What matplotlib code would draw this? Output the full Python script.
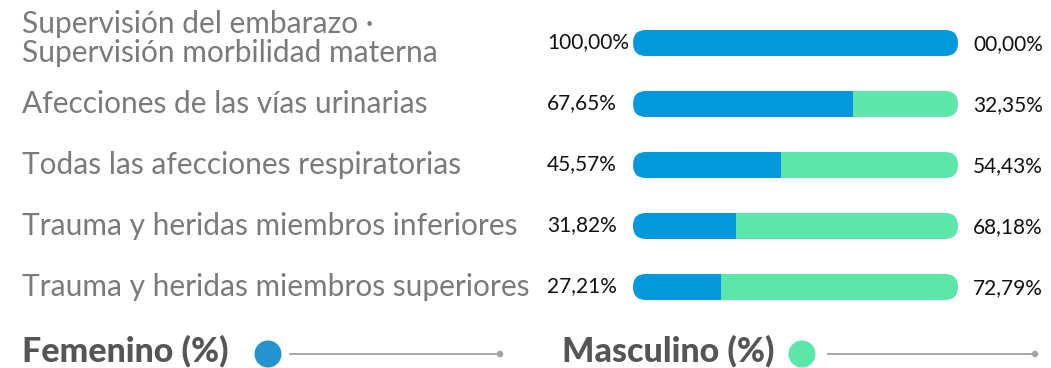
import matplotlib
matplotlib.use("Agg")
import matplotlib.pyplot as plt
from matplotlib.patches import FancyBboxPatch, Circle
from matplotlib.lines import Line2D

# Data
categories = [
    "Supervisión del embarazo ·\nSupervisión morbilidad materna",
    "Afecciones de las vías urinarias",
    "Todas las afecciones respiratorias",
    "Trauma y heridas miembros inferiores",
    "Trauma y heridas miembros superiores",
]
femenino = [100.00, 67.65, 45.57, 31.82, 27.21]
masculino = [0.00, 32.35, 54.43, 68.18, 72.79]
fem_labels = ["100,00%", "67,65%", "45,57%", "31,82%", "27,21%"]
masc_labels = ["00,00%", "32,35%", "54,43%", "68,18%", "72,79%"]
legend_names = ["Femenino (%)", "Masculino (%)"]

BLUE = "#0398DB"
GREEN = "#5CE6A9"
LEG_BLUE = "#2493CF"
LABEL_GRAY = "#7a7a7a"

W, H = 1051, 368
fig = plt.figure(figsize=(W / 100, H / 100), dpi=100)

# Bar axes in pixel-based placement
bx0, bx1 = 633, 958
row_top, row_h = 12.5, 61
n = len(categories)
ax = fig.add_axes([bx0 / W, 1 - (row_top + n * row_h) / H, (bx1 - bx0) / W, n * row_h / H])
ax.set_xlim(0, 100)
ax.set_ylim(n - 0.5, -0.5)
ax.axis("off")

bar_px = 26
bar_h = bar_px / row_h
px_per_x = (bx1 - bx0) / 100
radius_x = (bar_px / 2) / px_per_x
aspect = (1 / row_h) / (1 / px_per_x)

ys = list(range(n))
fem_bars = ax.barh(ys, femenino, height=bar_h, color=BLUE, linewidth=0)
masc_bars = ax.barh(ys, masculino, left=femenino, height=bar_h, color=GREEN, linewidth=0)

# Round the ends of each full-width track
for i in ys:
    clip = FancyBboxPatch((0, i - bar_h / 2), 100, bar_h,
                          boxstyle=f"round,pad=0,rounding_size={radius_x}",
                          mutation_aspect=aspect, transform=ax.transData,
                          facecolor="none", edgecolor="none")
    ax.add_patch(clip)
    fem_bars[i].set_clip_path(clip)
    masc_bars[i].set_clip_path(clip)

# Overlay for text & legend in pixel coordinates
ov = fig.add_axes([0, 0, 1, 1])
ov.set_xlim(0, W)
ov.set_ylim(H, 0)
ov.axis("off")

label_font = dict(family=["Lato", "DejaVu Sans"], fontweight="normal")
pct_font = dict(family=["Lato", "DejaVu Sans"])

for i in ys:
    yc = row_top + (i + 0.5) * row_h
    if "\n" in categories[i]:
        ov.text(22, yc - 4.5, categories[i], ha="left", va="center", fontsize=21.5,
                color=LABEL_GRAY, linespacing=1.02, **label_font)
    else:
        ov.text(22, yc, categories[i], ha="left", va="center", fontsize=21.5,
                color=LABEL_GRAY, **label_font)
    ov.text(547, yc - 1, fem_labels[i], ha="left", va="center", fontsize=15,
            color="#111111", **pct_font)
    ov.text(1043, yc + 1, masc_labels[i], ha="right", va="center", fontsize=15,
            color="#111111", **pct_font)

# Legend
leg_y = 354
leg_font = dict(family=["Lato", "DejaVu Sans"], fontweight="black")
entries = [(22, 268, 290, 500, LEG_BLUE), (562, 802, 828, 1035, GREEN)]
for (tx, cx, lx0, lx1, col), name in zip(entries, legend_names):
    ov.text(tx, leg_y - 3, name, ha="left", va="center", fontsize=24.5, color="#555555", **leg_font)
    ov.add_patch(Circle((cx, leg_y), 13.5, facecolor=col, edgecolor="none"))
    ov.add_line(Line2D([lx0, lx1], [leg_y, leg_y], color="#a8a8a8", linewidth=1.4))
    ov.add_patch(Circle((lx1, leg_y), 3.2, facecolor="#a0a0a0", edgecolor="none"))

fig.savefig("out.png", dpi=100)
